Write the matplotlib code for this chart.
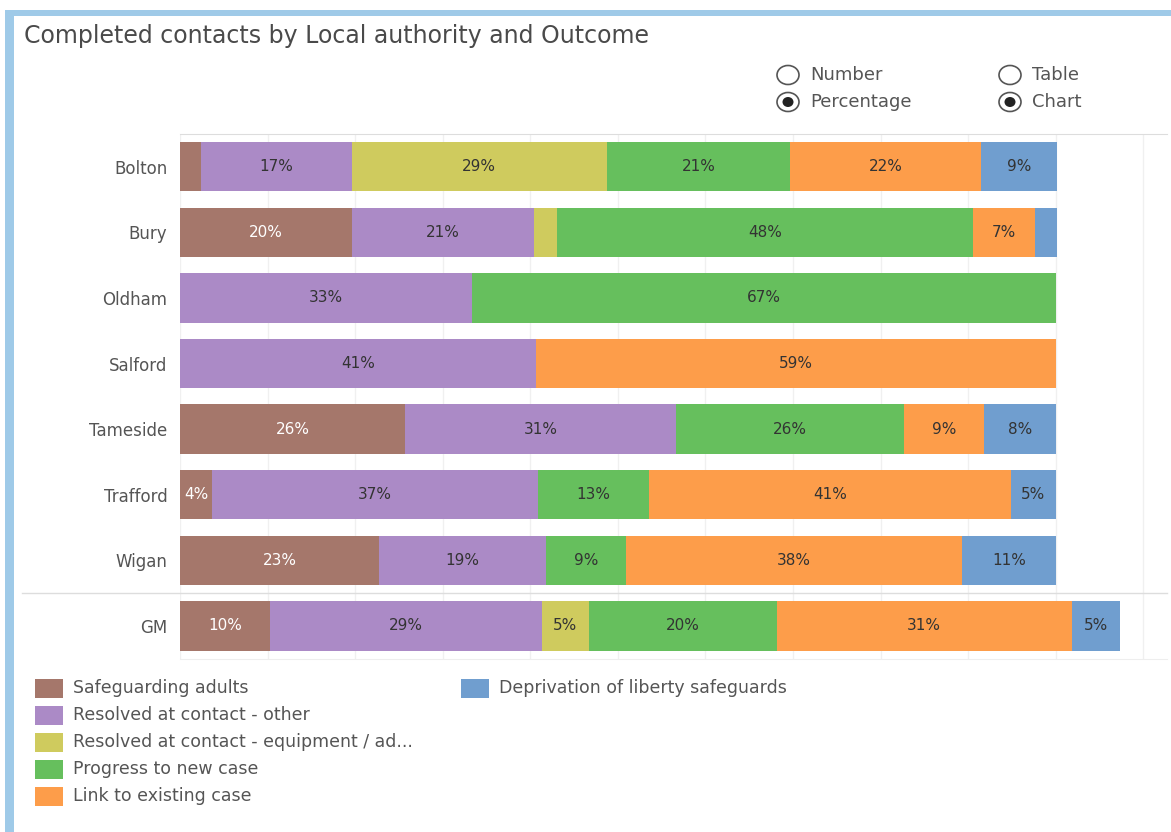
import matplotlib
matplotlib.use("Agg")
import matplotlib.pyplot as plt
from matplotlib.patches import Rectangle, Ellipse
from matplotlib.lines import Line2D
import numpy as np

plt.rcParams['font.family'] = ['DejaVu Sans']

## data
authorities = ['Bolton', 'Bury', 'Oldham', 'Salford', 'Tameside', 'Trafford', 'Wigan']
outcomes = ['Safeguarding adults',
            'Resolved at contact - other',
            'Resolved at contact - equipment / ad...',
            'Progress to new case',
            'Link to existing case',
            'Deprivation of liberty safeguards']

# percent share per outcome, one value per authority
safeguarding = [2.4, 19.6, 0, 0, 25.7, 3.7, 22.7]
resolved_other = [17.2, 20.8, 33.3, 40.6, 30.9, 37.2, 19.1]
resolved_equip = [29.1, 2.6, 0, 0, 0, 0, 0]
new_case = [21.0, 47.6, 66.7, 0, 26.1, 12.7, 9.1]
existing_case = [21.8, 7.0, 0, 59.4, 9.1, 41.3, 38.4]
dols = [8.6, 2.5, 0, 0, 8.2, 5.1, 10.7]

# Greater Manchester total
gm_label = 'GM'
gm = [9.6, 28.9, 5.0, 20.0, 31.4, 5.1]

colors = ['#a5776b', '#ab8ac6', '#cfcb5e', '#66bf5d', '#fd9d4a', '#709ecf']
label_colors = ['white', '#333333', '#333333', '#333333', '#333333', '#333333']

## figure
W, H = 1171, 832
fig = plt.figure(figsize=(W / 100, H / 100), dpi=100)

def px_rect(x0, y0, x1, y1):
    return [x0 / W, 1 - y1 / H, (x1 - x0) / W, (y1 - y0) / H]

xmax = 112.7
gm_scale = 876 / 940   # GM pane has its own, wider axis

ax = fig.add_axes(px_rect(180, 134, 1167, 593))
ax_gm = fig.add_axes(px_rect(180, 593, 1167, 659))

def stacked(a, rows, series, scale):
    y = np.arange(len(rows))
    left = np.zeros(len(rows))
    for vals, c, lc in zip(series, colors, label_colors):
        vals = np.asarray(vals, dtype=float)
        a.barh(y, vals, left=left, height=0.75, color=c, edgecolor='none')
        for yi, l, v in zip(y, left, vals):
            if v >= 3:
                a.text(l + v / 2, yi, f'{v:.0f}%', ha='center', va='center',
                       fontsize=11, color=lc, clip_on=True)
        left += vals
    a.set_yticks(y)
    a.set_yticklabels(rows)
    a.set_ylim(len(rows) - 0.5, -0.5)
    a.set_xlim(0, xmax * scale)
    a.set_xticks(np.arange(0, xmax, 10) * scale)
    a.set_xticklabels([])
    a.tick_params(length=0, labelsize=12, labelcolor='#555555', pad=9)
    a.grid(axis='x', color='#f0f0f0', lw=1)
    a.set_axisbelow(True)
    for s in a.spines.values():
        s.set_visible(False)

stacked(ax, authorities,
        [safeguarding, resolved_other, resolved_equip, new_case, existing_case, dols], 1.0)
stacked(ax_gm, [gm_label], [[v] for v in gm], gm_scale)

ax.spines['top'].set_visible(True)
ax.spines['top'].set_color('#dddddd')
ax_gm.spines['bottom'].set_visible(True)
ax_gm.spines['bottom'].set_color('#eeeeee')

## overlay in pixel space for the dashboard chrome
ov = fig.add_axes([0, 0, 1, 1], zorder=-1)
ov.set_xlim(0, W)
ov.set_ylim(H, 0)
ov.axis('off')

# blue frame
ov.add_patch(Rectangle((5, 10), W, 6, color='#9fcae8', lw=0))
ov.add_patch(Rectangle((5, 10), 9, H, color='#9fcae8', lw=0))

# separator above GM
fig.add_artist(Line2D([22 / W, 1167 / W], [1 - 593 / H] * 2, color='#dddddd', lw=1))

fig.text(24 / W, 1 - 36 / H, 'Completed contacts by Local authority and Outcome',
         fontsize=17, color='#4a4a4a', va='center', ha='left')

# radio buttons
ov2 = fig.add_axes([0, 0, 1, 1], zorder=5)
ov2.set_xlim(0, W)
ov2.set_ylim(H, 0)
ov2.axis('off')
radios = [(788, 75, 'Number', False), (788, 102, 'Percentage', True),
          (1010, 75, 'Table', False), (1010, 102, 'Chart', True)]
for cx, cy, txt, on in radios:
    ov2.add_patch(Ellipse((cx, cy), 22, 19, fill=False, ec='#555555', lw=1.2))
    if on:
        ov2.add_patch(Ellipse((cx, cy), 11, 10, color='#222222', lw=0))
    ov2.text(cx + 22, cy, txt, fontsize=13, color='#555555', va='center', ha='left')

# legend
legend_pos = [(35, 688), (35, 715), (35, 742), (35, 769), (35, 796), (461, 688)]
for (lx, ly), name, c in zip(legend_pos, outcomes, colors):
    ov2.add_patch(Rectangle((lx, ly - 9.5), 28, 19, color=c, lw=0))
    ov2.text(lx + 38, ly, name, fontsize=12.5, color='#555555', va='center', ha='left')

fig.savefig('out.png', dpi=100)
